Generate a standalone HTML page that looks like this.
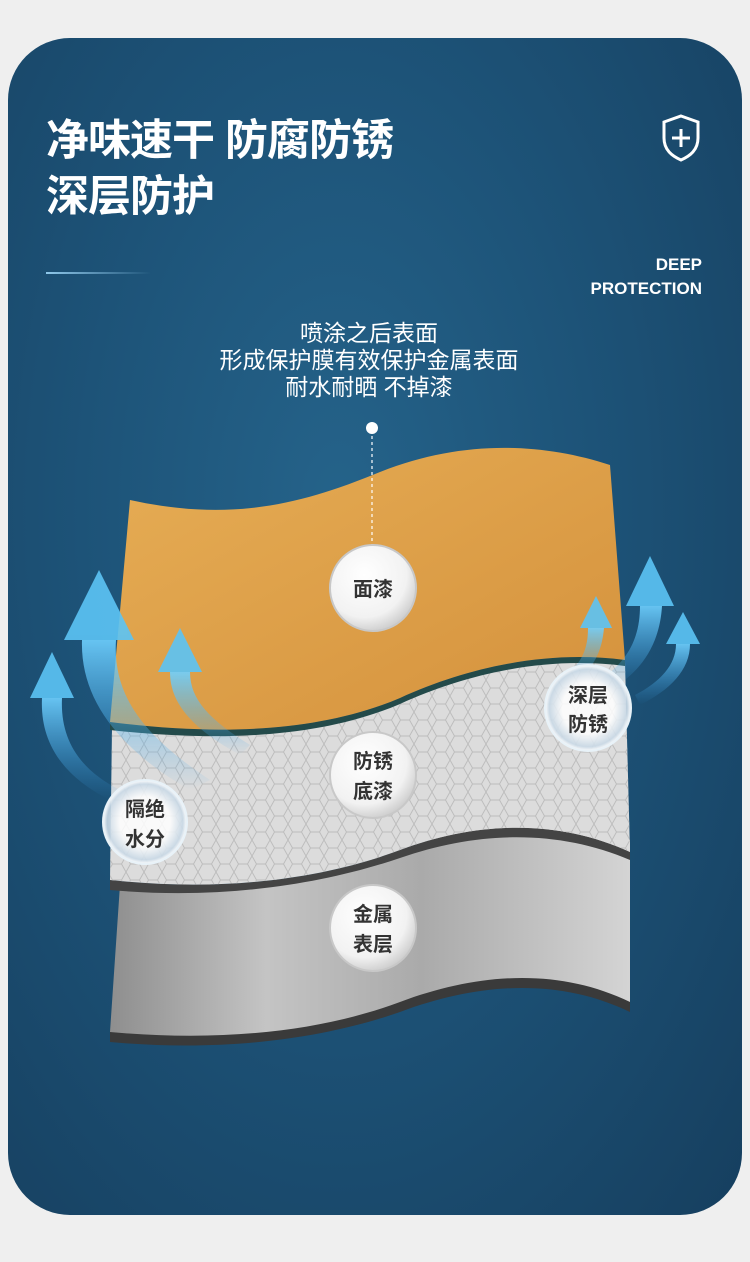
<!DOCTYPE html>
<html><head><meta charset="utf-8"><style>
html,body{margin:0;padding:0;width:750px;height:1262px;overflow:hidden;background:#efefef;font-family:"Liberation Sans","Noto Sans CJK SC",sans-serif;}
.card{position:absolute;left:8px;top:38px;width:734px;height:1177px;border-radius:62px;background:radial-gradient(ellipse at 45% 40%,#25638a 0%,#1d5378 45%,#163f5f 100%);overflow:hidden;}
.t{position:absolute;color:#fff;}
</style></head><body>
<div class="card"></div>
<div class="t" style="left:46px;top:113px;font-size:43px;font-weight:bold;line-height:56px;letter-spacing:-1px;">净味速干 防腐防锈<br>深层防护</div>
<div style="position:absolute;left:46px;top:272px;width:105px;height:2px;background:linear-gradient(90deg,#8fc8ea,rgba(143,200,234,0));"></div>
<div class="t" style="right:48px;top:253px;font-size:17px;font-weight:bold;line-height:24px;text-align:right;">DEEP<br>PROTECTION</div>
<div class="t" style="left:0;width:750px;top:320px;font-size:23px;line-height:27px;text-align:center;margin-left:-6px;">喷涂之后表面<br>形成保护膜有效保护金属表面<br>耐水耐晒 不掉漆</div>
<svg width="750" height="1262" style="position:absolute;left:0;top:0">
<defs>
<linearGradient id="or" x1="0" y1="0" x2="1" y2="1"><stop offset="0" stop-color="#e6ad55"/><stop offset="1" stop-color="#d4913c"/></linearGradient>
<linearGradient id="mt" x1="0" y1="0" x2="1" y2="0"><stop offset="0" stop-color="#8e8e8e"/><stop offset="0.3" stop-color="#c4c4c4"/><stop offset="0.6" stop-color="#aaaaaa"/><stop offset="1" stop-color="#d4d4d4"/></linearGradient>
<pattern id="hx" width="18" height="16" patternUnits="userSpaceOnUse"><path d="M4.5,0 L13.5,0 L18,8 L13.5,16 L4.5,16 L0,8 Z" fill="none" stroke="#bdbdbd" stroke-width="1"/></pattern>
<radialGradient id="cw" cx="0.4" cy="0.35" r="0.7"><stop offset="0" stop-color="#fff"/><stop offset="0.7" stop-color="#f2f2f2"/><stop offset="1" stop-color="#c8c8c8"/></radialGradient>
<radialGradient id="bb" cx="0.5" cy="0.5" r="0.5"><stop offset="0.6" stop-color="#ffffff" stop-opacity="0.85"/><stop offset="0.9" stop-color="#c9d9e6" stop-opacity="0.9"/><stop offset="1" stop-color="#ffffff" stop-opacity="1"/></radialGradient>
<linearGradient id="ar" x1="0" y1="0" x2="0" y2="1"><stop offset="0" stop-color="#6fd0ff"/><stop offset="1" stop-color="#3aa0e8" stop-opacity="0"/></linearGradient>
</defs>
<path d="M110,1042 C220,1052 320,1040 400,1012 C480,982 560,978 630,1012 L630,1000 C560,966 480,970 400,1000 C320,1030 220,1040 110,1030 Z" fill="#3a3a3a"/>
<path d="M120,885 C220,895 320,880 400,850 C480,820 560,818 630,840 L630,1002 C560,968 480,972 400,1002 C320,1032 220,1042 110,1032 Z" fill="url(#mt)"/>
<path d="M110,890 C220,900 320,885 400,858 C480,830 560,830 630,860 L630,852 C560,820 480,820 400,850 C320,880 220,892 110,880 Z" fill="#444"/>
<path d="M112,728 C220,740 320,735 400,700 C470,668 550,650 625,662 L630,852 C560,820 480,820 400,850 C320,880 220,892 110,880 Z" fill="#dcdcdc"/>
<path d="M112,728 C220,740 320,735 400,700 C470,668 550,650 625,662 L630,852 C560,820 480,820 400,850 C320,880 220,892 110,880 Z" fill="url(#hx)"/>
<path d="M110,730 C220,742 320,738 400,704 C470,672 550,656 625,666 L625,660 C550,650 470,666 400,698 C320,732 220,736 110,722 Z" fill="#234a4a"/>
<path d="M130,500 C230,522 300,505 380,472 C460,440 540,442 610,465 L625,660 C550,650 470,666 400,698 C320,732 220,736 110,722 Z" fill="url(#or)"/>
<circle cx="372" cy="428" r="6" fill="#fff"/>
<line x1="372" y1="436" x2="372" y2="548" stroke="#fff" stroke-width="1.2" stroke-dasharray="3,3"/>
<g opacity="0.9">
<polygon points="30,698 52,652 74,698" fill="#5cc4f5"/>
<path d="M42,698 L62,698 C60,740 80,770 120,790 L110,800 C60,775 40,740 42,698 Z" fill="url(#ar)"/>
<polygon points="64,640 99,570 134,640" fill="#5cc4f5"/>
<path d="M82,640 L116,640 C112,700 150,740 210,780 L190,790 C120,750 80,700 82,640 Z" fill="url(#ar)"/>
<polygon points="158,672 180,628 202,672" fill="#5cc4f5"/>
<path d="M170,672 L190,672 C190,700 210,720 250,745 L240,755 C195,730 170,705 170,672 Z" fill="url(#ar)"/>
</g>
<g opacity="0.9">
<polygon points="580,628 596,596 612,628" fill="#5cc4f5"/>
<path d="M588,628 L604,628 C602,650 595,665 580,678 L572,670 C584,658 588,645 588,628 Z" fill="url(#ar)"/>
<polygon points="626,606 650,556 674,606" fill="#5cc4f5"/>
<path d="M640,606 L662,606 C660,640 645,670 610,690 L600,680 C630,660 640,635 640,606 Z" fill="url(#ar)"/>
<polygon points="666,644 683,612 700,644" fill="#5cc4f5"/>
<path d="M676,644 L690,644 C690,670 670,690 640,705 L635,695 C660,682 676,665 676,644 Z" fill="url(#ar)"/>
</g>
<g>
<circle cx="373" cy="588" r="43" fill="url(#cw)" stroke="#c8c8c8" stroke-width="2"/>
<circle cx="373" cy="775" r="43" fill="url(#cw)" stroke="#c8c8c8" stroke-width="2"/>
<circle cx="373" cy="928" r="43" fill="url(#cw)" stroke="#c8c8c8" stroke-width="2"/>
<circle cx="145" cy="822" r="42" fill="url(#bb)" stroke="#e8f2f8" stroke-width="2"/>
<circle cx="588" cy="708" r="43" fill="url(#bb)" stroke="#e8f2f8" stroke-width="2"/>
</g>
<g font-family="Liberation Sans, Noto Sans CJK SC, sans-serif" font-size="20" font-weight="bold" fill="#333" text-anchor="middle">
<text x="373" y="596">面漆</text>
<text x="373" y="768">防锈</text><text x="373" y="798">底漆</text>
<text x="373" y="921">金属</text><text x="373" y="951">表层</text>
<text x="145" y="816">隔绝</text><text x="145" y="846">水分</text>
<text x="588" y="702">深层</text><text x="588" y="731">防锈</text>
</g>
<path d="M681,116 L698,122 L698,138 C698,150 690,156 681,160 C672,156 664,150 664,138 L664,122 Z" fill="none" stroke="#fff" stroke-width="3"/>
<path d="M681,129 L681,147 M672,138 L690,138" stroke="#fff" stroke-width="3"/>
</svg>
</body></html>
